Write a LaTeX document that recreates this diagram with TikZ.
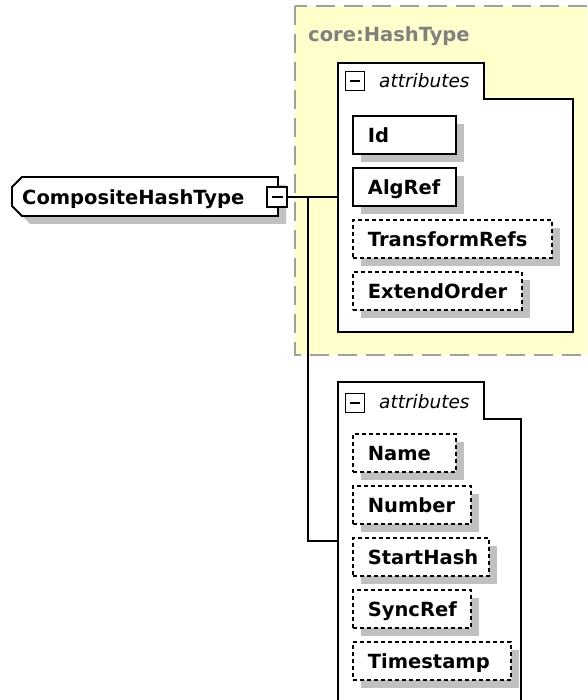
\documentclass[tikz,border=0pt]{standalone}
\usepackage{fontspec}
\usepackage{tikz}
\usetikzlibrary{shadows}
\newfontfamily\xsdfont{DejaVu Sans}
\definecolor{typefill}{RGB}{255,255,204}
\definecolor{typeline}{RGB}{160,160,160}
\definecolor{typetext}{RGB}{128,128,128}
\definecolor{shadowgray}{RGB}{192,192,192}
\tikzset{
  typebox/.style={draw=typeline, fill=typefill, line width=2pt, dash pattern=on 19pt off 9pt},
  typelabel/.style={anchor=base west, inner sep=0pt, text=typetext, font=\xsdfont\bfseries\fontsize{19.5}{23}\selectfont},
  grouptab/.style={draw, fill=white, line width=1.8pt},
  grouplabel/.style={anchor=base west, inner sep=0pt, font=\xsdfont\itshape\fontsize{18.5}{22}\selectfont},
  elembox/.style={draw, fill=white, line width=1.8pt},
  elemname/.style={anchor=base west, inner sep=0pt, font=\xsdfont\bfseries\fontsize{19.5}{23}\selectfont},
  minusbox/.style={draw, fill=white, line width=1.6pt, minimum width=#1, minimum height=#1, inner sep=0pt,
    path picture={\draw [line width=1.6pt] ([xshift=4.5pt]path picture bounding box.west) -- ([xshift=-4.5pt]path picture bounding box.east);}},
  attrbox/.style={draw, fill=white, line width=1.8pt, anchor=north west, text width=#1, align=left,
    inner xsep=15pt, inner ysep=0pt, minimum height=38pt, text height=16pt, text depth=1pt,
    font=\xsdfont\bfseries\fontsize{19.5}{23}\selectfont,
    drop shadow={shadow xshift=8pt, shadow yshift=-8pt, fill=shadowgray, opacity=1}},
  optattrbox/.style={attrbox=#1, line width=1.7pt, dash pattern=on 4pt off 3pt},
  conn/.style={line width=1.8pt}
}
\begin{document}
\begin{tikzpicture}[x=1pt,y=-1pt,line join=miter]
        \useasboundingbox (0,0) rectangle (587,700);
        \clip (0,0) rectangle (587,700);
        % complex type base
        \draw [typebox] (295,6) rectangle (610,355);
        \node [typelabel] (hashtype) at (308,42) {core:HashType};
        % attribute groups
        \draw [grouptab] (338,332) -- (338,63) -- (484,63) -- (484,99) -- (573,99) -- (573,332) -- cycle;
        \node [minusbox=19pt] (grpAminus) at (355,81) {};
        \node [grouplabel] (grpAlabel) at (379,88) {attributes};
        \draw [grouptab] (338,720) -- (338,382) -- (484,382) -- (484,419) -- (521,419) -- (521,720);
        \node [minusbox=19pt] (grpBminus) at (355,403) {};
        \node [grouplabel] (grpBlabel) at (379,408) {attributes};
        % element
        \fill [shadowgray] (20,195) -- (30,185) -- (286,185) -- (286,224) -- (30,224) -- (20,214) -- cycle;
        \draw [elembox] (12,187) -- (22,177) -- (278,177) -- (278,216) -- (22,216) -- (12,206) -- cycle;
        \node [elemname] (composite) at (22,205) {CompositeHashType};
        \coordinate (grpAin) at (338,197);
        \coordinate (fork) at (308,197);
        \coordinate (grpBin) at (338,541);
        \draw [conn] (fork) |- (grpBin);
        \draw [conn] (277,197) -- (grpAin);
        \node [minusbox=20pt] (compositeminus) at (277,197) {};
        % attributes
        \node [attrbox=73pt] (id) at (352,115) {Id};
        \node [attrbox=73pt] (algref) at (352,167) {AlgRef};
        \node [optattrbox=169pt] (transformrefs) at (352,219) {TransformRefs};
        \node [optattrbox=139pt] (extendorder) at (352,271) {ExtendOrder};
        \node [optattrbox=73pt] (name) at (352,433) {Name};
        \node [optattrbox=88pt] (number) at (352,485) {Number};
        \node [optattrbox=106pt] (starthash) at (352,537) {StartHash};
        \node [optattrbox=88pt] (syncref) at (352,589) {SyncRef};
        \node [optattrbox=128pt] (timestamp) at (352,641) {Timestamp};
\end{tikzpicture}
\end{document}
